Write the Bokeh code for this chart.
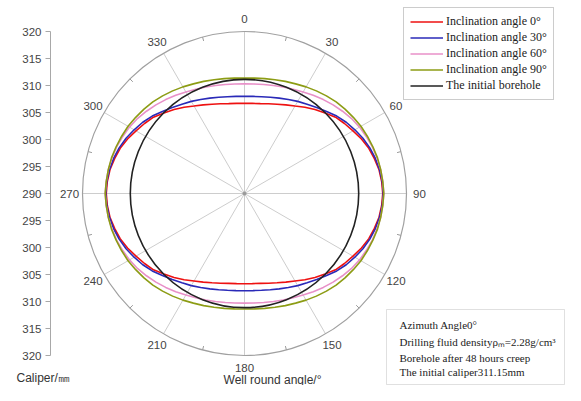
import numpy as np
from bokeh.plotting import figure
from bokeh.models import (Range1d, LinearAxis, FixedTicker, Legend, LegendItem,
                          Label, BoxAnnotation)
from bokeh.core.properties import value
from bokeh.embed import file_html
from bokeh.resources import INLINE

# ---------------- data ----------------
ANGLE_DEG = list(range(0, 360, 5))

CALIPER_INC_0 = [306.7, 306.75, 306.9, 307.2, 307.6, 308.1, 308.7, 309.5, 310.3, 311.1, 312.0, 312.6, 313.2, 313.9, 314.5, 314.9, 315.3, 315.5, 315.6,
                 315.5, 315.3, 314.9, 314.5, 313.9, 313.2, 312.6, 312.0, 311.1, 310.3, 309.5, 308.7, 308.1, 307.6, 307.2, 306.9, 306.75, 306.7,
                 306.75, 306.9, 307.2, 307.6, 308.1, 308.7, 309.5, 310.3, 311.1, 312.0, 312.6, 313.2, 313.9, 314.5, 314.9, 315.3, 315.5, 315.6,
                 315.5, 315.3, 314.9, 314.5, 313.9, 313.2, 312.6, 312.0, 311.1, 310.3, 309.5, 308.7, 308.1, 307.6, 307.2, 306.9, 306.75]
CALIPER_INC_30 = [308.0, 308.05, 308.2, 308.45, 308.8, 309.2, 309.7, 310.2, 310.8, 311.5, 312.3, 313.0, 313.6, 314.2, 314.7, 315.1, 315.4, 315.6, 315.7,
                  315.6, 315.4, 315.1, 314.7, 314.2, 313.6, 313.0, 312.3, 311.5, 310.8, 310.2, 309.7, 309.2, 308.8, 308.45, 308.2, 308.05, 308.0,
                  308.05, 308.2, 308.45, 308.8, 309.2, 309.7, 310.2, 310.8, 311.5, 312.3, 313.0, 313.6, 314.2, 314.7, 315.1, 315.4, 315.6, 315.7,
                  315.6, 315.4, 315.1, 314.7, 314.2, 313.6, 313.0, 312.3, 311.5, 310.8, 310.2, 309.7, 309.2, 308.8, 308.45, 308.2, 308.05]
CALIPER_INC_60 = [310.3, 310.35, 310.5, 310.7, 311.0, 311.3, 311.7, 312.2, 312.7, 313.2, 313.7, 314.2, 314.6, 314.9, 315.2, 315.4, 315.6, 315.7, 315.8,
                  315.7, 315.6, 315.4, 315.2, 314.9, 314.6, 314.2, 313.7, 313.2, 312.7, 312.2, 311.7, 311.3, 311.0, 310.7, 310.5, 310.35, 310.3,
                  310.35, 310.5, 310.7, 311.0, 311.3, 311.7, 312.2, 312.7, 313.2, 313.7, 314.2, 314.6, 314.9, 315.2, 315.4, 315.6, 315.7, 315.8,
                  315.7, 315.6, 315.4, 315.2, 314.9, 314.6, 314.2, 313.7, 313.2, 312.7, 312.2, 311.7, 311.3, 311.0, 310.7, 310.5, 310.35]
CALIPER_INC_90 = [311.4, 311.45, 311.6, 311.8, 312.1, 312.4, 312.8, 313.2, 313.6, 314.0, 314.3, 314.6, 314.9, 315.1, 315.3, 315.5, 315.6, 315.7, 315.8,
                  315.7, 315.6, 315.5, 315.3, 315.1, 314.9, 314.6, 314.3, 314.0, 313.6, 313.2, 312.8, 312.4, 312.1, 311.8, 311.6, 311.45, 311.4,
                  311.45, 311.6, 311.8, 312.1, 312.4, 312.8, 313.2, 313.6, 314.0, 314.3, 314.6, 314.9, 315.1, 315.3, 315.5, 315.6, 315.7, 315.8,
                  315.7, 315.6, 315.5, 315.3, 315.1, 314.9, 314.6, 314.3, 314.0, 313.6, 313.2, 312.8, 312.4, 312.1, 311.8, 311.6, 311.45]
INITIAL_CALIPER = 311.15

SERIES_NAMES = ["Inclination angle 0\u00b0", "Inclination angle 30\u00b0",
                "Inclination angle 60\u00b0", "Inclination angle 90\u00b0",
                "The initial borehole"]

R_CENTER = 290.0
R_OUTER = 320.0
CALIPER_TICKS = [-30, -25, -20, -15, -10, -5, 0, 5, 10, 15, 20, 25, 30]
CALIPER_TICK_LABELS = ["320", "315", "310", "305", "300", "295", "290",
                       "295", "300", "305", "310", "315", "320"]
ANGLE_TICKS = [0, 30, 60, 90, 120, 150, 180, 210, 240, 270, 300, 330]
ANGLE_TICK_LABELS = ["0", "30", "60", "90", "120", "150", "180", "210", "240", "270", "300", "330"]
ANGLE_MINOR_TICKS = [15, 45, 75, 105, 135, 165, 195, 225, 255, 285, 315, 345]

INFO_LINES = ["Azimuth Angle0\u00b0",
              "Drilling fluid density\u03c1\u2098=2.28g/cm\u00b3",
              "Borehole after 48 hours creep",
              "The initial caliper311.15mm"]

# ---------------- layout ----------------
W, H = 565, 385
SCALE = 5.4          # px per caliper unit
AXIS_X = 50          # px position of the caliper axis line
CX, CY = 244, 193    # circle centre in figure px


def px(fx, fy):
    return (fx - CX) / SCALE, (CY - fy) / SCALE


def polar(angles, radii):
    a = np.radians(np.asarray(angles, dtype=float))
    r = np.asarray(radii, dtype=float) - R_CENTER
    return r * np.sin(a), r * np.cos(a)


p = figure(width=W, height=H,
           x_range=Range1d(-CX / SCALE, (W - CX) / SCALE),
           y_range=Range1d(-(H - CY) / SCALE, CY / SCALE),
           output_backend="svg", toolbar_location=None,
           x_axis_type=None, y_axis_type=None, min_border=0)
p.outline_line_color = None
p.background_fill_color = "white"

yaxis = LinearAxis(ticker=FixedTicker(ticks=CALIPER_TICKS),
                   major_label_overrides={t: l for t, l in zip(CALIPER_TICKS, CALIPER_TICK_LABELS)},
                   bounds=(-30, 30), fixed_location=px(AXIS_X, 0)[0],
                   axis_line_color="#a8a8a8", major_tick_line_color="#a8a8a8",
                   major_tick_out=5, major_tick_in=0, minor_tick_line_color=None,
                   major_label_standoff=4,
                   major_label_text_font="Liberation Sans",
                   major_label_text_font_size="11.5px",
                   major_label_text_color="#444444")
p.add_layout(yaxis, "left")

# polar grid
rout = R_OUTER - R_CENTER
sx, sy = polar(ANGLE_TICKS, [R_OUTER] * len(ANGLE_TICKS))
p.segment(x0=np.zeros(len(sx)), y0=np.zeros(len(sy)), x1=sx, y1=sy,
          line_color="#cdcdcd", line_width=1)
mx1, my1 = polar(ANGLE_MINOR_TICKS, [R_OUTER] * len(ANGLE_MINOR_TICKS))
mx0, my0 = polar(ANGLE_MINOR_TICKS, [R_OUTER - 0.75] * len(ANGLE_MINOR_TICKS))
p.segment(x0=mx0, y0=my0, x1=mx1, y1=my1, line_color="#9a9a9a", line_width=1)
p.circle(x=[0], y=[0], radius=rout, fill_color=None, line_color="#a0a0a0", line_width=1.2)
p.scatter(x=[0], y=[0], size=3, color="#999999")

lx, ly = polar(ANGLE_TICKS, [R_OUTER + 2.4] * len(ANGLE_TICKS))
p.text(x=lx, y=ly, text=ANGLE_TICK_LABELS, text_align="center", text_baseline="middle",
       text_font=value("Liberation Sans"), text_font_size="11.5px", text_color="#444444")

# curves
colors = ["#ee1111", "#2a2ab8", "#e890c8", "#8c9c14", "#222222"]
series = [CALIPER_INC_0, CALIPER_INC_30, CALIPER_INC_60, CALIPER_INC_90]
renderers = []
for vals, c in zip(series, colors[:4]):
    x, y = polar(ANGLE_DEG + ANGLE_DEG[:1], vals + vals[:1])
    renderers.append(p.line(x=x, y=y, line_color=c, line_width=1.6))
p.circle(x=[0], y=[0], radius=INITIAL_CALIPER - R_CENTER, fill_color=None,
         line_color=colors[4], line_width=1.6)
renderers.append(p.line(x=[np.nan, np.nan], y=[np.nan, np.nan], line_color=colors[4], line_width=1.6))

legend = Legend(items=[LegendItem(label=n, renderers=[r]) for n, r in zip(SERIES_NAMES, renderers)],
                location=(403, 285), margin=0, padding=6, spacing=1,
                glyph_width=33, glyph_height=15, label_height=15, label_standoff=3,
                border_line_color="#999999", border_line_width=1,
                background_fill_color="white", background_fill_alpha=1,
                label_text_font="Liberation Serif", label_text_font_size="12px",
                label_text_color="#222222")
p.add_layout(legend)

# info box
bl, bt = px(386, 309)
br, bb = px(564, 384)
p.add_layout(BoxAnnotation(left=bl, right=br, top=bt, bottom=bb, fill_color="white",
                           fill_alpha=1, line_color="#999999", line_width=1))
for txt, fy in zip(INFO_LINES, [324, 341, 357, 371]):
    tx, ty = px(399, fy)
    p.add_layout(Label(x=tx, y=ty, text=txt, text_align="left", text_baseline="middle",
                       text_font="Liberation Serif", text_font_size="11px",
                       text_color="#222222"))

# axis titles
tx, ty = px(272, 379)
p.add_layout(Label(x=tx, y=ty, text="Well round angle/\u00b0", text_align="center",
                   text_baseline="middle", text_font="Liberation Sans",
                   text_font_size="12px", text_color="#333333"))
tx, ty = px(16, 377)
p.add_layout(Label(x=tx, y=ty, text="Caliper/\u339c", text_align="left",
                   text_baseline="middle", text_font="Liberation Sans",
                   text_font_size="12px", text_color="#333333"))

open("out.html", "w").write(file_html(p, INLINE))
